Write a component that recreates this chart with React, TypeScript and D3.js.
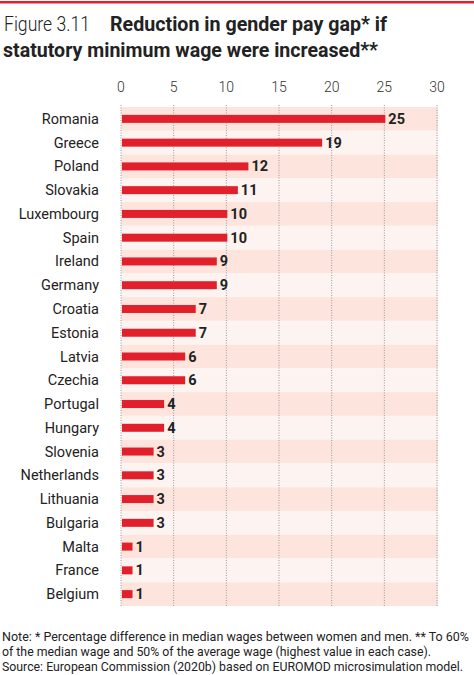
import React from "react";
import * as d3 from "d3";

const countries = ["Romania","Greece","Poland","Slovakia","Luxembourg","Spain","Ireland","Germany","Croatia","Estonia","Latvia","Czechia","Portugal","Hungary","Slovenia","Netherlands","Lithuania","Bulgaria","Malta","France","Belgium"];
const values = [25,19,12,11,10,10,9,9,7,7,6,6,4,4,3,3,3,3,1,1,1];
const ticks = [0,5,10,15,20,25,30];
const noteLines = [
  "Note: * Percentage difference in median wages between women and men. ** To 60%",
  "of the median wage and 50% of the average wage (highest value in each case).",
  "Source: European Commission (2020b) based on EUROMOD microsimulation model.",
];
const noteWidths = [467, 429, 461];

const W = 474, H = 675;
const FONT = "Roboto, sans-serif";

export default function App() {
  const x = d3.scaleLinear().domain([0, 30]).range([121, 437]);
  const y = d3.scaleBand<string>().domain(countries).range([107, 606]).padding(0);
  const bh = 8;
  return (
    <svg width={W} height={H} style={{ position: "absolute", left: 0, top: 0, background: "#fff" }} fontFamily={FONT}>
      <rect x={0} y={1} width={W} height={2.5} fill="#e2202c" />
      <text x={4} y={31} fontSize={20} fontWeight={300} fill="#222" textLength={86} lengthAdjust="spacingAndGlyphs">Figure 3.11</text>
      <text x={110} y={31} fontSize={20} fontWeight={700} fill="#222" textLength={277} lengthAdjust="spacingAndGlyphs">Reduction in gender pay gap* if</text>
      <text x={3} y={57} fontSize={20} fontWeight={700} fill="#222" textLength={375} lengthAdjust="spacingAndGlyphs">statutory minimum wage were increased**</text>
      {countries.map((c, i) => (
        <rect key={"band" + c} x={x(0)} y={y(c)!} width={x(30) - x(0) + 1} height={y.bandwidth()}
          fill={i % 2 === 0 ? "#fde5dd" : "#fdf4f1"} />
      ))}
      {ticks.map(t => (
        <g key={"t" + t}>
          <line x1={x(t)} x2={x(t)} y1={105} y2={607} stroke="#999" strokeWidth={1} strokeDasharray="1,1.5" />
          <text x={x(t)} y={92} fontSize={14} fontWeight={300} textAnchor="middle" fill="#333">{t}</text>
        </g>
      ))}
      {countries.map((c, i) => {
        const cy = y(c)! + y.bandwidth() / 2;
        return (
          <g key={c}>
            <text x={99} y={cy + 5} fontSize={14.5} textAnchor="end" fill="#222">{c}</text>
            <rect x={x(0) + 1} y={cy - bh / 2} width={x(values[i]) - x(0)} height={bh} fill="#e2202c" />
            <text x={x(values[i]) + 4} y={cy + 5} fontSize={14.5} fontWeight={700} fill="#222">{values[i]}</text>
          </g>
        );
      })}
      {noteLines.map((l, i) => (
        <text key={i} x={2} y={641 + i * 15} fontSize={12.2} fill="#222" textLength={noteWidths[i]} lengthAdjust="spacingAndGlyphs">{l}</text>
      ))}
    </svg>
  );
}
